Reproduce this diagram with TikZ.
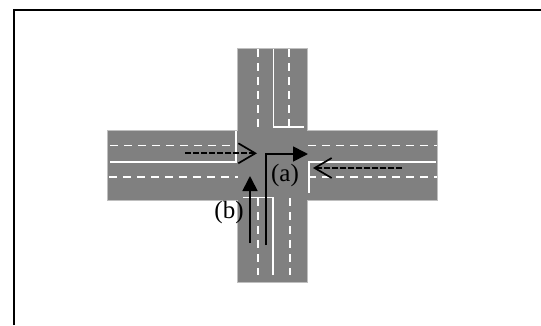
\documentclass[tikz,border=0pt]{standalone}
\usepackage{fontspec}
\setmainfont{Liberation Serif}
\usetikzlibrary{arrows.meta}
\tikzset{
 x=1pt,y=-1pt,
 road/.style={fill=black!50,draw=black!25,line width=.6pt},
 solidw/.style={draw=white,line width=1.6pt},
 dashw/.style={draw=white,line width=1.9pt,dash pattern=on 8pt off 6pt},
 solidarrow/.style={draw=black,line width=1.7pt,-{Triangle[length=15pt,width=15pt]}},
 openarrow/.style={draw=black,line width=1.7pt,dash pattern=on 6pt off 2pt,-{Straight Barb[length=17pt,width=20pt,line width=1.7pt]}},
 lab/.style={font=\fontsize{25}{25}\selectfont,inner sep=0pt},
}
\begin{document}
\begin{tikzpicture}
\useasboundingbox (0,0) rectangle (541,325);
\fill[white] (0,0) rectangle (541,325);
\draw[line width=2pt] (13.5,325) -- (13.5,10.2) -- (541,10.2);
\path[road] (237.5,48.5) -- (307.5,48.5) -- (307.5,130.5) -- (437.5,130.5) -- (437.5,200.5) -- (307.5,200.5) -- (307.5,282.5) -- (237.5,282.5) -- (237.5,200.5) -- (107,200.5) -- (107,130.5) -- (237.5,130.5) -- cycle;
% centre dashed lines
\draw[dashw] (258,49) -- (258,127);
\draw[dashw] (289,49) -- (289,127);
\draw[dashw] (110,145.5) -- (232,145.5);
\draw[dashw] (109,177.3) -- (238,177.3);
\draw[dashw] (308,145.5) -- (437,145.5);
\draw[dashw] (308,177.3) -- (437,177.3);
\draw[dashw] (258,198) -- (258,275);
\draw[dashw] (290,198) -- (290,275);
% solid lines
\draw[solidw] (273.3,49) -- (273.3,127) -- (304,127);
\draw[solidw] (110,161.7) -- (236,161.7) -- (236,131);
\draw[solidw] (436,161.7) -- (309,161.7) -- (309,193);
\draw[solidw] (243,197.5) -- (273,197.5) -- (273,275);
% arrows
\coordinate (ha) at (185,153.3);
\coordinate (hb) at (257,153.3);
\coordinate (ia) at (402,168);
\coordinate (ib) at (313,168);
\coordinate (va) at (250,243);
\coordinate (vb) at (250,176);
\coordinate (ta) at (265.7,245);
\coordinate (tb) at (265.7,154);
\coordinate (tc) at (308,154);
\draw[openarrow] (ha) -- (hb);
\draw[openarrow] (ia) -- (ib);
\draw[solidarrow] (va) -- (vb);
\draw[solidarrow] (ta) -- (tb) -- (tc);
\node[lab] (a) at (285,175) {(a)};
\node[lab] (b) at (229,212) {(b)};
\end{tikzpicture}
\end{document}
